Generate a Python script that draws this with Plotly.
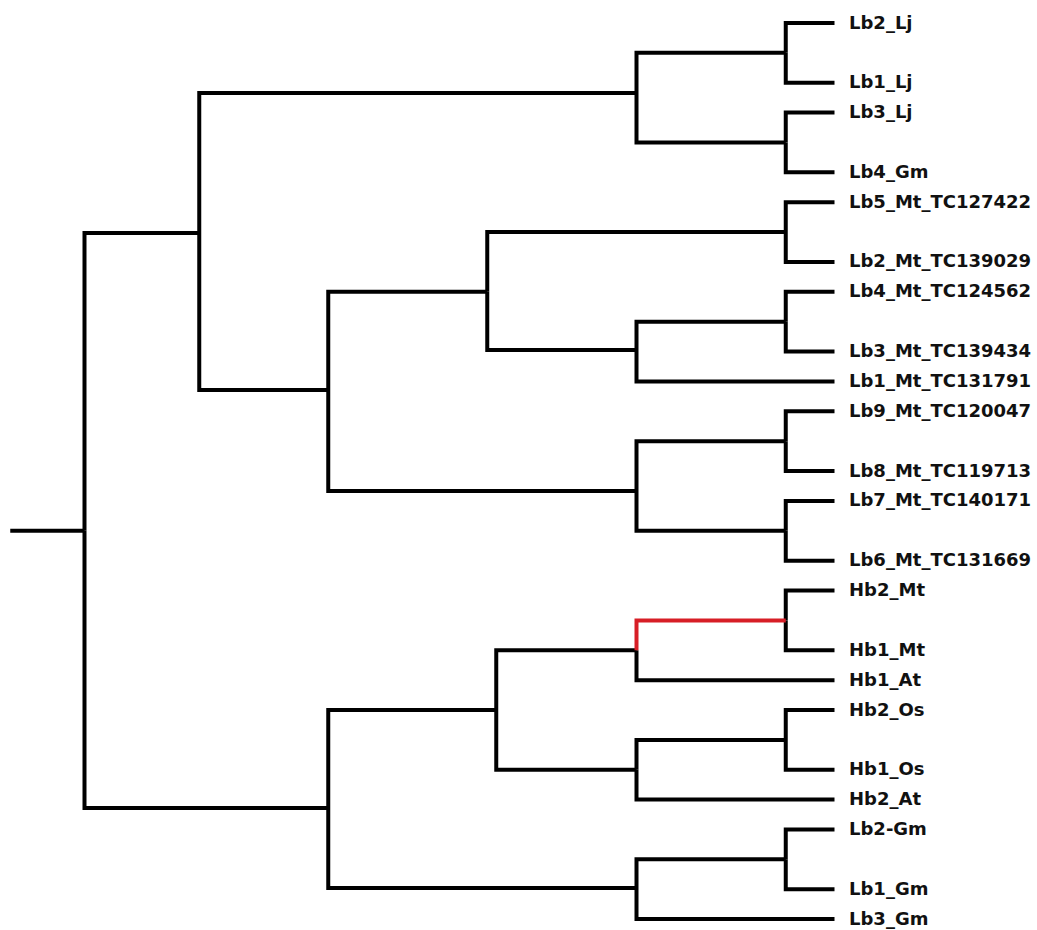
import plotly.graph_objects as go

# Leaf names (top to bottom) and their row positions
leaf_names = [
    "Lb2_Lj", "Lb1_Lj", "Lb3_Lj", "Lb4_Gm",
    "Lb5_Mt_TC127422", "Lb2_Mt_TC139029", "Lb4_Mt_TC124562",
    "Lb3_Mt_TC139434", "Lb1_Mt_TC131791", "Lb9_Mt_TC120047",
    "Lb8_Mt_TC119713", "Lb7_Mt_TC140171", "Lb6_Mt_TC131669",
    "Hb2_Mt", "Hb1_Mt", "Hb1_At", "Hb2_Os", "Hb1_Os", "Hb2_At",
    "Lb2-Gm", "Lb1_Gm", "Lb3_Gm",
]
leaf_rows = [0, 2, 3, 5, 6, 8, 9, 11, 12, 13, 15, 16, 18,
             19, 21, 22, 23, 25, 26, 27, 29, 30]
leaf_depth = 100.0

# Internal nodes: name -> (depth, row, children)
node_names = ["root", "A", "B", "P1", "P2", "C", "D", "P3", "E", "P4",
              "F", "P5", "P6", "G", "H", "I", "P7", "J", "P8", "K", "P9"]
node_depths = [0.0, 15.3, 73.6, 93.5, 93.5, 32.5, 53.7, 93.5, 73.6, 93.5,
               73.6, 93.5, 93.5, 32.5, 54.9, 73.6, 93.5, 73.6, 93.5, 73.6, 93.5]
node_rows = [17.0, 7.03, 2.34, 1.0, 4.0, 12.29, 9.0, 7.0, 10.95, 10.0,
             15.67, 14.0, 17.0, 26.28, 23.0, 21.0, 20.0, 25.0, 24.0, 28.96, 28.0]
node_children = [
    ["A", "G"], ["B", "C"], ["P1", "P2"],
    ["Lb2_Lj", "Lb1_Lj"], ["Lb3_Lj", "Lb4_Gm"],
    ["D", "F"], ["P3", "E"], ["Lb5_Mt_TC127422", "Lb2_Mt_TC139029"],
    ["P4", "Lb1_Mt_TC131791"], ["Lb4_Mt_TC124562", "Lb3_Mt_TC139434"],
    ["P5", "P6"], ["Lb9_Mt_TC120047", "Lb8_Mt_TC119713"],
    ["Lb7_Mt_TC140171", "Lb6_Mt_TC131669"],
    ["H", "K"], ["I", "J"], ["P7", "Hb1_At"], ["Hb2_Mt", "Hb1_Mt"],
    ["P8", "Hb2_At"], ["Hb2_Os", "Hb1_Os"],
    ["P9", "Lb3_Gm"], ["Lb2-Gm", "Lb1_Gm"],
]
root_stub_depth = -9.9
highlighted_branch = ("I", "P7")   # branch drawn in red

# Coordinates of every node
pos = {}
for n, r in zip(leaf_names, leaf_rows):
    pos[n] = (leaf_depth, r)
for n, d, r in zip(node_names, node_depths, node_rows):
    pos[n] = (d, r)

black_x, black_y, red_x, red_y = [], [], [], []

# Root stub
black_x += [root_stub_depth, pos["root"][0], None]
black_y += [pos["root"][1], pos["root"][1], None]

for parent, kids in zip(node_names, node_children):
    px, py = pos[parent]
    for kid in kids:
        cx, cy = pos[kid]
        xs = [px, px, cx, None]
        ys = [py, cy, cy, None]
        if (parent, kid) == highlighted_branch:
            red_x += xs
            red_y += ys
        else:
            black_x += xs
            black_y += ys

fig = go.Figure()
fig.add_trace(go.Scatter(x=black_x, y=black_y, mode="lines",
                         line=dict(color="#000000", width=4),
                         hoverinfo="skip", showlegend=False))
fig.add_trace(go.Scatter(x=red_x, y=red_y, mode="lines",
                         line=dict(color="#d71e26", width=4),
                         hoverinfo="skip", showlegend=False))

for n, r in zip(leaf_names, leaf_rows):
    fig.add_annotation(x=leaf_depth, y=r, text=n, showarrow=False,
                       xanchor="left", yanchor="middle", xshift=12, yshift=1,
                       font=dict(family="DejaVu Sans", size=18, color="#111111",
                                 weight="bold"))

fig.update_layout(
    width=1037, height=930, autosize=False,
    margin=dict(l=0, r=0, t=0, b=0),
    paper_bgcolor="white", plot_bgcolor="white",
    xaxis=dict(range=[-11.267, 127.0], visible=False, fixedrange=True),
    yaxis=dict(range=[30.365, -0.770], visible=False, fixedrange=True),
)

fig.write_html("out.html")
